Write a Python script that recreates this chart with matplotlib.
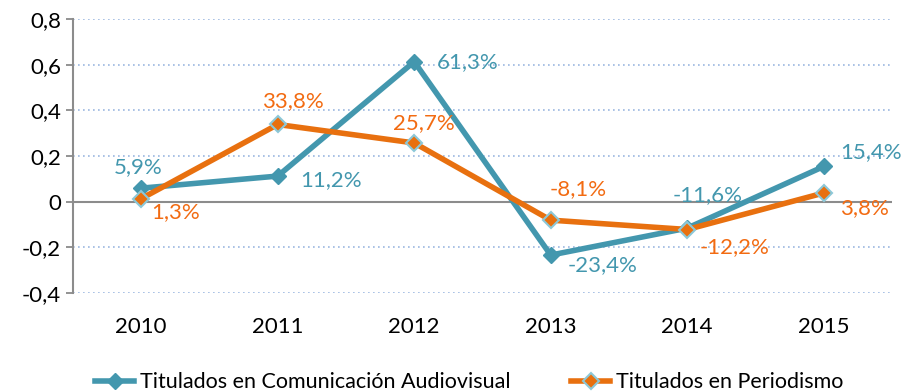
import matplotlib.pyplot as plt
import numpy as np

years = ['2010', '2011', '2012', '2013', '2014', '2015']
audiovisual = [0.059, 0.112, 0.613, -0.234, -0.116, 0.154]
periodismo = [0.013, 0.338, 0.257, -0.081, -0.122, 0.038]
av_labels = ['5,9%', '11,2%', '61,3%', '-23,4%', '-11,6%', '15,4%']
pe_labels = ['1,3%', '33,8%', '25,7%', '-8,1%', '-12,2%', '3,8%']

teal = '#4397AE'
orange = '#E8700F'
orange_txt = '#F26B12'

plt.rcParams['font.family'] = ['Lato', 'DejaVu Sans']

fig = plt.figure(figsize=(9.03, 3.92), dpi=100)
ax = fig.add_axes([0.0808, 0.2526, 0.907, 0.699])
x = np.arange(len(years))

ax.plot(x, audiovisual, color=teal, lw=4, marker='D', ms=8,
        mfc=teal, mec=teal, label='Titulados en Comunicación Audiovisual', zorder=3)
ax.plot(x, periodismo, color=orange, lw=4, marker='D', ms=8,
        mfc=orange, mec='#8CC8D8', mew=1.5, label='Titulados en Periodismo', zorder=4)

# label offsets in points (dx, dy, ha)
av_off = [(-2, 15, 'center'), (16, -3, 'left'), (16, 0, 'left'),
          (12, -7, 'left'), (15, 24, 'center'), (12, 10, 'left')]
pe_off = [(7, -10, 'left'), (11, 17, 'center'), (7, 14, 'center'),
          (20, 22, 'center'), (9, -13, 'left'), (12, -11, 'left')]
for i in range(len(x)):
    dx, dy, ha = av_off[i]
    ax.annotate(av_labels[i], (x[i], audiovisual[i]), xytext=(dx, dy),
                textcoords='offset points', ha=ha, va='center',
                color=teal, fontsize=16)
    dx, dy, ha = pe_off[i]
    ax.annotate(pe_labels[i], (x[i], periodismo[i]), xytext=(dx, dy),
                textcoords='offset points', ha=ha, va='center',
                color=orange_txt, fontsize=16)

ax.set_xlim(-0.5, 5.5)
ax.set_ylim(-0.4, 0.8)
ax.set_yticks(np.arange(-0.4, 0.81, 0.2))
ax.set_yticklabels(['-0,4', '-0,2', '0', '0,2', '0,4', '0,6', '0,8'])
ax.set_xticks(x)
ax.set_xticklabels(years)
ax.tick_params(axis='y', labelsize=16, color='#808080', length=5, width=1.2)
ax.tick_params(axis='x', labelsize=16, length=0, pad=17)

for y in [-0.4, -0.2, 0.2, 0.4, 0.6, 0.8]:
    ax.axhline(y, color='#9BB7E0', lw=1.2, ls=(0, (1, 2)), zorder=1)
ax.axhline(0, color='#8C8C8C', lw=1.5, zorder=2)

for s in ['top', 'right', 'bottom']:
    ax.spines[s].set_visible(False)
ax.spines['left'].set_color('#8C8C8C')
ax.spines['left'].set_linewidth(1.5)

fig.legend(loc='lower center', ncol=2, frameon=False, fontsize=15.5,
           bbox_to_anchor=(0.52, -0.05), handlelength=1.8, handletextpad=0.3,
           columnspacing=2.8)

fig.savefig('out.png', dpi=100)
